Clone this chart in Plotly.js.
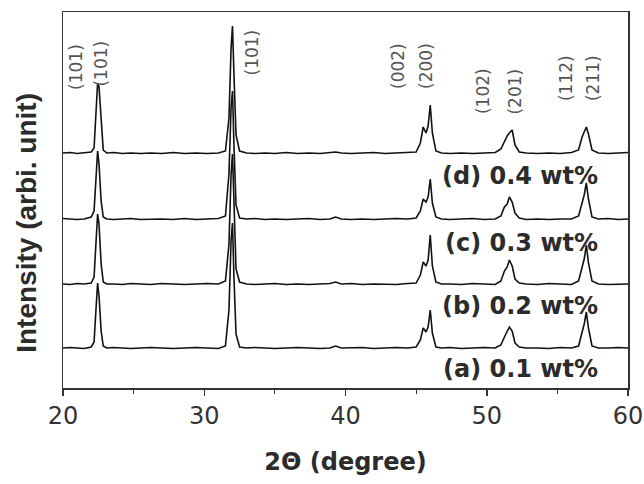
<!DOCTYPE html>
<html>
<head>
<meta charset="utf-8">
<script src="https://cdn.plot.ly/plotly-3.0.1.min.js"></script>
<style>html,body{margin:0;padding:0;background:#fff;}#chart{width:644px;height:484px;}</style>
</head>
<body>
<div id="chart"></div>
<script>
// 2-theta sampling points (degrees)
const twoTheta = [20,20.5,21,21.5,22.0,22.2,22.35,22.45,22.55,22.7,
  22.85,23.1,23.6,24.2,24.8,25.5,26.2,27.0,27.8,28.6,
  29.4,30.2,31.0,31.5,31.75,31.9,32.0,32.1,32.25,32.5,
  33.0,33.6,34.3,35.0,35.8,36.6,37.4,38.2,38.9,39.3,
  39.7,40.4,41.2,42.0,42.8,43.6,44.4,45.0,45.3,45.5,
  45.7,45.85,46.0,46.15,46.4,46.8,47.4,48.2,49.0,49.8,
  50.6,51.0,51.25,51.45,51.6,51.8,52.0,52.3,52.8,53.6,
  54.4,55.2,56.0,56.5,56.75,56.9,57.05,57.2,57.45,57.9,
  58.6,59.3,60];

// intensities (arb. units) above each pattern's own baseline
const intensityA = [0,0.5,0,-0.5,1,6,42,65,52,17,
  2,0,0.5,0,-0.5,0,0.5,0,-0.5,0,
  0.5,0,-0.5,2,38,108,125,72,14,1,
  0,0.5,0,-0.5,0,0.5,0,-0.5,0,2,
  0,0,0.5,-0.5,0,0.5,0,1,8,20,
  16,21,38,15,1,0,0.5,-0.5,0,0.5,
  0,3,11,16,21,17,5,1,0,0,
  -0.5,0.5,0,2,15,24,36,20,2,0,
  0,0.5,0];
const intensityB = [0,-0.5,0.5,0,1,7,45,70,60,20,
  2,0,0,-0.5,0.5,0,-0.5,0.5,0,-0.5,
  0,0.5,0,3,40,110,130,78,15,2,
  0,-0.5,0,0.5,-0.5,0,-0.5,0,0.5,2,
  0,0.5,-0.5,0,0,-0.5,0.5,1,9,22,
  18,24,49,18,2,0,0,-0.5,0.5,0,
  -0.5,3,13,17,24,18,5,1,0,-0.5,
  0.5,0,-0.5,3,18,25,39,21,3,0,
  -0.5,0,0];
const intensityC = [0.5,0,-0.5,0,2,8,50,68,55,18,
  2,0,-0.5,0,0.5,-0.5,0,0,-0.5,0.5,
  -0.5,0,0.5,3,45,112,128,75,14,1,
  0,0.5,-0.5,0,-0.5,0,0.5,-0.5,0,2,
  0,-0.5,0,-0.5,0,0.5,0,1,8,20,
  17,22,40,16,2,0,-0.5,0,0.5,-0.5,
  0,3,12,15,22,17,6,1,-0.5,0,
  -0.5,0,0,3,17,24,36,20,2,0,
  0.5,-0.5,0];
const intensityD = [0,0.5,-0.5,0.5,1,5,38,70,66,28,
  3,0,0.5,-0.5,0,-0.5,0,-0.5,0.5,-0.5,
  0,-0.5,0,2,35,105,127,80,18,2,
  0,-0.5,0,-0.5,0.5,-0.5,0,-0.5,0,1,
  0,-0.5,0,0.5,-0.5,0,0,1,10,26,
  20,27,48,20,2,0,-0.5,0,-0.5,0,
  0.5,4,12,17,20,23,8,1,0,-0.5,
  0,-0.5,0.5,3,16,22,26,19,3,0,
  -0.5,0,0.5];

const seriesNames = ['(a) 0.1 wt%','(b) 0.2 wt%','(c) 0.3 wt%','(d) 0.4 wt%'];
const seriesIntensity = [intensityA, intensityB, intensityC, intensityD];
const stackOffsets = [40, 104, 169, 235];

// peak indexing labels
const peakLabels = ['(101)','(101)','(101)','(002)','(200)','(102)','(201)','(112)','(211)'];
const peakLabelPos = [20.88, 22.62, 33.38, 43.68, 45.66, 49.70, 51.93, 55.58, 57.49];

const xTitle = '2Θ (degree)';
const yTitle = 'Intensity (arbi. unit)';

// ---- layout constants (not data) ----
const peakLabelY = [321.5, 324.5, 335.5, 322.5, 322.5, 296.5, 296.5, 309.5, 309.5];
const seriesLabelY = [19, 82, 145, 212];

const traces = seriesIntensity.map((vals, i) => ({
  type: 'scatter', mode: 'lines', name: seriesNames[i],
  x: twoTheta,
  y: vals.map(v => v + stackOffsets[i]),
  line: {color: '#111', width: 1.6},
  hoverinfo: 'skip'
}));

const annotations = [];
peakLabels.forEach((t, i) => annotations.push({
  x: peakLabelPos[i], y: peakLabelY[i], xref: 'x', yref: 'y',
  text: t, textangle: -90, showarrow: false,
  xanchor: 'center', yanchor: 'middle',
  font: {family: 'DejaVu Sans', size: 17, color: '#555'}
}));
seriesNames.forEach((t, i) => annotations.push({
  x: 0.951, y: seriesLabelY[i], xref: 'paper', yref: 'y',
  text: '<b>' + t + '</b>', showarrow: false,
  xanchor: 'right', yanchor: 'middle',
  font: {family: 'DejaVu Sans', size: 24, color: '#2b2b2b'}
}));
// y-axis title (placed below the axis centre as in the original)
annotations.push({
  x: -0.064, y: 0.439, xref: 'paper', yref: 'paper',
  text: '<b>' + yTitle + '</b>', textangle: -90, showarrow: false,
  xanchor: 'center', yanchor: 'middle',
  font: {family: 'Liberation Sans', size: 28, color: '#2b2b2b'}
});

const layout = {
  width: 644, height: 484,
  margin: {l: 63, r: 16, t: 12, b: 96},
  paper_bgcolor: '#fff', plot_bgcolor: '#fff',
  showlegend: false,
  xaxis: {
    range: [20, 60], dtick: 10, tick0: 20,
    ticks: 'outside', ticklen: 6, tickwidth: 1.5, tickcolor: '#333',
    showline: true, linecolor: '#333', linewidth: 1.5, mirror: true,
    showgrid: false, zeroline: false,
    minor: {dtick: 5, ticks: 'outside', ticklen: 4, tickwidth: 1.2, tickcolor: '#333', showgrid: false},
    tickfont: {family: 'DejaVu Sans', size: 24, color: '#333'},
    title: {text: '<b>' + xTitle + '</b>', font: {family: 'DejaVu Sans', size: 24, color: '#2b2b2b'}, standoff: 24}
  },
  yaxis: {
    range: [0, 376],
    showticklabels: false, ticks: '',
    showline: true, linecolor: '#333', linewidth: 1.5, mirror: true,
    showgrid: false, zeroline: false
  },
  annotations: annotations
};

Plotly.newPlot('chart', traces, layout, {displayModeBar: false, staticPlot: true});
</script>
</body>
</html>
